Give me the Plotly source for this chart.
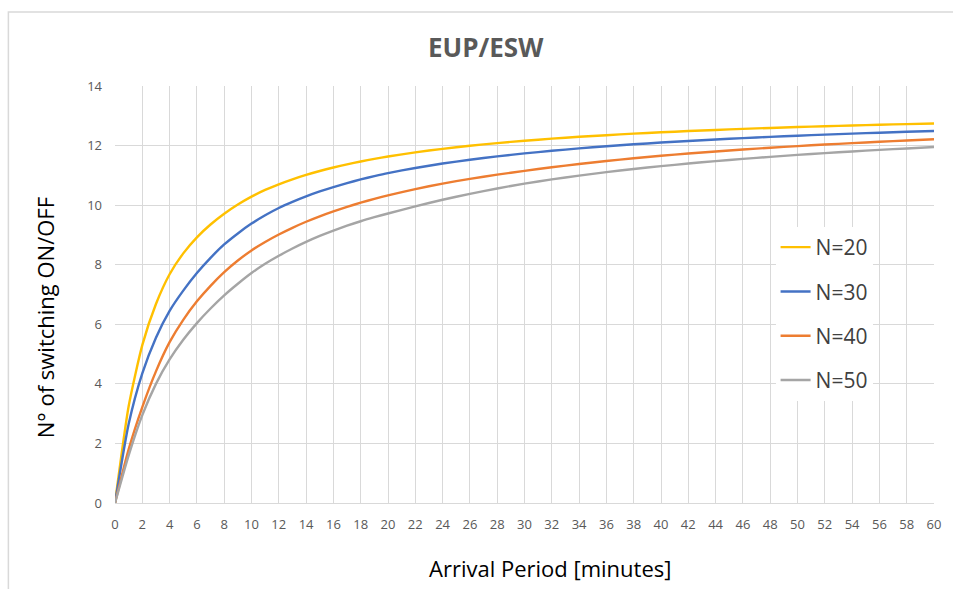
import plotly.graph_objects as go

# Arrival period (minutes) at which each curve is sampled
arrival_minutes = [0, 1, 2, 3, 4, 5, 6, 7, 8, 9, 10, 11, 12, 13, 14, 15, 16, 17, 18, 19, 20,
                   22, 24, 26, 28, 30, 32, 34, 36, 38, 40, 42, 44, 46, 48, 50, 52, 54, 56, 58, 60]

# Number of ON/OFF switchings for each fleet size N
switch_n20 = [0, 3.25, 5.3, 6.68, 7.68, 8.38, 8.92, 9.35, 9.71, 10.02, 10.285, 10.51,
              10.701, 10.868, 11.016, 11.147, 11.264, 11.37, 11.466, 11.553, 11.632,
              11.772, 11.891, 11.994, 12.083, 12.162, 12.232, 12.294, 12.349, 12.4, 12.445,
              12.487, 12.525, 12.56, 12.592, 12.622, 12.649, 12.675, 12.699, 12.721, 12.742]
switch_n30 = [0, 2.65, 4.35, 5.55, 6.45, 7.13, 7.72, 8.23, 8.68, 9.05, 9.38, 9.66,
              9.903, 10.11, 10.294, 10.459, 10.607, 10.741, 10.863, 10.974, 11.076,
              11.248, 11.396, 11.524, 11.636, 11.736, 11.825, 11.905, 11.977, 12.042, 12.101,
              12.155, 12.205, 12.25, 12.292, 12.331, 12.367, 12.401, 12.432, 12.462, 12.49]
switch_n40 = [0, 1.8, 3.22, 4.42, 5.4, 6.15, 6.77, 7.29, 7.75, 8.14, 8.48, 8.763,
              9.014, 9.239, 9.442, 9.625, 9.791, 9.943, 10.083, 10.211, 10.329,
              10.54, 10.723, 10.883, 11.024, 11.15, 11.273, 11.383, 11.483, 11.574, 11.657,
              11.733, 11.803, 11.867, 11.927, 11.983, 12.034, 12.082, 12.127, 12.17, 12.21]
switch_n50 = [0, 1.6, 2.95, 4.0, 4.82, 5.48, 6.04, 6.53, 6.97, 7.36, 7.72, 8.03,
              8.3, 8.545, 8.765, 8.965, 9.145, 9.31, 9.46, 9.595, 9.72,
              9.96, 10.18, 10.38, 10.56, 10.724, 10.865, 10.992, 11.108, 11.213, 11.309,
              11.397, 11.478, 11.553, 11.622, 11.686, 11.746, 11.802, 11.855, 11.903, 11.95]

series_names = ["N=20", "N=30", "N=40", "N=50"]
series_values = [switch_n20, switch_n30, switch_n40, switch_n50]
series_colors = ["#FFC000", "#4472C4", "#ED7D31", "#A5A5A5"]

x_ticks = list(range(0, 61, 2))
y_ticks = list(range(0, 15, 2))

FONT = "Open Sans, Liberation Sans, sans-serif"
W, H = 953, 589
L, R, T, B = 115, 16, 86, 86
plot_w = W - L - R
plot_h = H - T - B


def px_to_paper_x(px):
    return (px - L) / plot_w


def px_to_paper_y(py):
    return (H - B - py) / plot_h


fig = go.Figure()
for name, vals, color in zip(series_names, series_values, series_colors):
    fig.add_trace(go.Scatter(
        x=arrival_minutes, y=vals, name=name, legendgroup=name,
        mode="lines", line=dict(color=color, width=2.4, shape="spline", smoothing=0.6),
    ))

fig.update_layout(
    width=W, height=H,
    margin=dict(l=L, r=R, t=T, b=B),
    paper_bgcolor="white", plot_bgcolor="white",
    font=dict(family=FONT, color="#595959"),
    showlegend=True,
    legend=dict(
        x=px_to_paper_x(778), y=px_to_paper_y(227), xanchor="left", yanchor="top",
        bgcolor="white", borderwidth=0,
        font=dict(size=21, color="#404040", family=FONT),
        traceorder="grouped", tracegroupgap=14,
        itemwidth=30,
    ),
    xaxis=dict(
        range=[0, 60], tickvals=x_ticks, ticktext=[str(v) for v in x_ticks],
        showgrid=True, gridcolor="#d9d9d9", gridwidth=1.2,
        zeroline=False, showline=True, linecolor="#d9d9d9", linewidth=1.2,
        tickfont=dict(size=13, color="#595959"), ticks="", ticklen=0,
        ticklabelstandoff=9,
        fixedrange=True,
    ),
    yaxis=dict(
        range=[0, 14], tickvals=y_ticks,
        showgrid=True, gridcolor="#d9d9d9", gridwidth=1.2,
        zeroline=False, showline=False,
        tickfont=dict(size=13, color="#595959"), ticks="", ticklen=0,
        ticklabelstandoff=12,
        fixedrange=True,
    ),
)

# Chart title
fig.add_annotation(
    text="<b>EUP/ESW</b>", xref="paper", yref="paper",
    x=px_to_paper_x(487), y=px_to_paper_y(47),
    xanchor="center", yanchor="middle", showarrow=False,
    font=dict(size=26, color="#595959", family=FONT),
)
# Axis titles
fig.add_annotation(
    text="Arrival Period [minutes]", xref="paper", yref="paper",
    x=px_to_paper_x(552), y=px_to_paper_y(568),
    xanchor="center", yanchor="middle", showarrow=False,
    font=dict(size=22, color="#000000", family=FONT),
)
fig.add_annotation(
    text="N° of switching ON/OFF", xref="paper", yref="paper",
    x=px_to_paper_x(45), y=px_to_paper_y(318),
    xanchor="center", yanchor="middle", showarrow=False, textangle=-90,
    font=dict(size=22, color="#000000", family=FONT),
)

# Light frame around the chart area
fig.add_shape(
    type="rect", xref="paper", yref="paper",
    x0=px_to_paper_x(8), x1=px_to_paper_x(W + 20),
    y0=px_to_paper_y(H + 20), y1=px_to_paper_y(12),
    line=dict(color="#d9d9d9", width=1.5), fillcolor="rgba(0,0,0,0)", layer="below",
)

fig.write_html("out.html")
